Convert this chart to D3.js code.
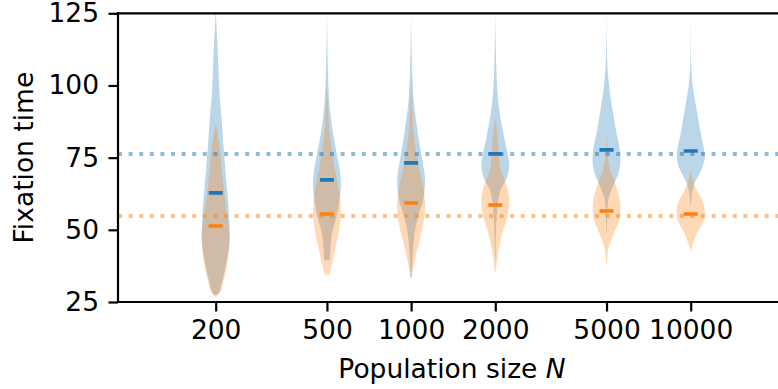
<!DOCTYPE html>
<html>
<head>
<meta charset="utf-8">
<script src="https://cdn.jsdelivr.net/npm/d3@7"></script>
<style>
  body { margin: 0; background: #fff; }
  svg text { font-family: "DejaVu Sans", sans-serif; }
</style>
</head>
<body>
<div id="chart"></div>
<script>
// Data
const populations = [200, 500, 1000, 2000, 5000, 10000];
const blueMeans = [62.8, 67.3, 73.2, 76.3, 77.7, 77.3];
const orangeMeans = [51.3, 55.5, 59.3, 58.6, 56.5, 55.5];
const blueRef = 76.3;
const orangeRef = 54.8;
const yTicks = [25, 50, 75, 100, 125];

// Violin outlines: [fixation time, relative half width], from top to bottom
const blueProfiles = [
  [[127, 0], [122, 0.04], [114.6, 0.12], [103, 0.22], [95, 0.3], [91.5, 0.37], [80, 0.54], [68.4, 0.73], [56.9, 0.93], [47.6, 1.0], [38.5, 0.76], [31.6, 0.43], [28.2, 0.24], [27.4, 0.05]],
  [[127, 0], [112, 0.04], [100.8, 0.1], [90, 0.25], [83.5, 0.43], [76.6, 0.69], [69.7, 0.95], [65, 1.0], [60.4, 0.9], [54, 0.65], [48.9, 0.36], [43, 0.24], [39.5, 0.2]],
  [[127, 0], [112, 0.04], [95, 0.18], [83.5, 0.48], [76.6, 0.71], [69.7, 0.95], [67.3, 1.0], [60.4, 0.86], [54.6, 0.5], [48.9, 0.25], [42, 0.12], [33.5, 0.03]],
  [[127, 0], [112, 0.04], [95, 0.2], [83.5, 0.57], [75.2, 0.92], [73.2, 1.0], [68.4, 0.86], [63.8, 0.38], [58, 0.17], [50, 0.06], [40, 0.02]],
  [[127, 0], [112, 0.03], [100.8, 0.16], [91.5, 0.43], [83.5, 0.71], [77.7, 0.95], [74.2, 1.0], [69.7, 0.86], [65, 0.45], [60.4, 0.13], [55, 0.04], [49, 0.02]],
  [[126, 0], [110, 0.02], [100.8, 0.12], [92.6, 0.39], [83.5, 0.71], [75.2, 1.0], [70.8, 0.77], [66.2, 0.28], [62, 0.08], [58, 0.02]]
];
const orangeProfiles = [
  [[87, 0], [85, 0.08], [80, 0.24], [68.4, 0.48], [56.9, 0.76], [47.6, 1.0], [38.5, 0.83], [31.6, 0.52], [28.2, 0.28], [26.8, 0.04]],
  [[99, 0], [95, 0.05], [83.5, 0.19], [71.9, 0.52], [65, 0.8], [60.4, 0.95], [56, 1.0], [48.9, 0.83], [42, 0.52], [37, 0.3], [34.4, 0.15]],
  [[103, 0], [95, 0.06], [83.5, 0.18], [71.9, 0.54], [65, 0.85], [58.1, 1.0], [51.2, 0.83], [44.3, 0.49], [37.4, 0.18], [33, 0.02]],
  [[89, 0], [83.5, 0.14], [72, 0.33], [65, 0.81], [60.4, 1.0], [54.6, 0.86], [48.9, 0.5], [42, 0.2], [35, 0.02]],
  [[84, 0], [78, 0.06], [72, 0.19], [65, 0.69], [58, 1.0], [53.4, 0.9], [48.9, 0.52], [44.3, 0.17], [38.4, 0.02]],
  [[71, 0], [68, 0.1], [65, 0.32], [57, 1.0], [53.4, 0.93], [48.9, 0.45], [45, 0.15], [43, 0.02]]
];

const width = 778;
const height = 389;
const plot = { left: 118, right: 786, top: 13.3, bottom: 302 };
const fontSize = 26.5;
const blue = "#1f77b4";
const orange = "#ff7f0e";
const halfWidth = 14;

const svg = d3.select("#chart")
    .append("svg")
    .attr("width", width)
    .attr("height", height);

// Scales
const x = d3.scaleLog()
    .domain([200, 10000])
    .range([215.7, 690.7]);

const y = d3.scaleLinear()
    .domain([25, 125])
    .range([plot.bottom, plot.top]);

svg.append("clipPath")
    .attr("id", "plot-clip")
    .append("rect")
    .attr("x", plot.left)
    .attr("y", plot.top)
    .attr("width", plot.right - plot.left)
    .attr("height", plot.bottom - plot.top);

const body = svg.append("g").attr("clip-path", "url(#plot-clip)");

// Violins
const violinArea = (cx) => d3.area()
    .y((d) => y(d[0]))
    .x0((d) => cx - d[1] * halfWidth)
    .x1((d) => cx + d[1] * halfWidth)
    .curve(d3.curveMonotoneY);

populations.forEach((p, i) => {
    const cx = x(p);
    body.append("path")
        .datum(blueProfiles[i])
        .attr("d", violinArea(cx))
        .attr("fill", blue)
        .attr("fill-opacity", 0.3);
    body.append("path")
        .datum(orangeProfiles[i])
        .attr("d", violinArea(cx))
        .attr("fill", orange)
        .attr("fill-opacity", 0.3);
});

// Reference lines
[[blueRef, blue], [orangeRef, orange]].forEach(([v, c]) => {
    body.append("line")
        .attr("x1", plot.left)
        .attr("x2", plot.right)
        .attr("y1", y(v))
        .attr("y2", y(v))
        .attr("stroke", c)
        .attr("stroke-opacity", 0.5)
        .attr("stroke-width", 4)
        .attr("stroke-dasharray", "4,6.6");
});

// Mean markers
const markers = [[blueMeans, blue], [orangeMeans, orange]];
markers.forEach(([means, c]) => {
    body.selectAll(null)
        .data(means)
        .enter()
        .append("line")
        .attr("x1", (d, i) => x(populations[i]) - 7)
        .attr("x2", (d, i) => x(populations[i]) + 7)
        .attr("y1", (d) => y(d))
        .attr("y2", (d) => y(d))
        .attr("stroke", c)
        .attr("stroke-width", 3.6);
});

// Axes
const xAxis = d3.axisBottom(x)
    .tickValues(populations)
    .tickFormat(d3.format("d"))
    .tickSize(9.5)
    .tickPadding(9);

const yAxis = d3.axisLeft(y)
    .tickValues(yTicks)
    .tickSize(9.5)
    .tickSizeOuter(0)
    .tickPadding(9.5);

const gx = svg.append("g")
    .attr("transform", `translate(0, ${plot.bottom})`)
    .call(xAxis);
gx.select(".domain").remove();

const gy = svg.append("g")
    .attr("transform", `translate(${plot.left}, 0)`)
    .call(yAxis);
gy.select(".domain").remove();

[gx, gy].forEach((g) => {
    g.selectAll("line").attr("stroke", "#000").attr("stroke-width", 2.2);
    g.selectAll("text").attr("fill", "#000").style("font-size", `${fontSize}px`);
});

// Spines
const spine = svg.append("g")
    .attr("stroke", "#000")
    .attr("stroke-width", 2.2)
    .attr("stroke-linecap", "square");
spine.append("line").attr("x1", plot.left).attr("x2", plot.right).attr("y1", plot.top).attr("y2", plot.top);
spine.append("line").attr("x1", plot.left).attr("x2", plot.right).attr("y1", plot.bottom).attr("y2", plot.bottom);
spine.append("line").attr("x1", plot.left).attr("x2", plot.left).attr("y1", plot.top).attr("y2", plot.bottom);

// Axis labels
const xLabel = svg.append("text")
    .attr("x", (plot.left + plot.right) / 2)
    .attr("y", 378)
    .attr("text-anchor", "middle")
    .style("font-size", `${fontSize}px`);
xLabel.append("tspan").text("Population size ");
xLabel.append("tspan").style("font-style", "italic").text("N");

svg.append("text")
    .attr("transform", "rotate(-90)")
    .attr("x", -(plot.top + plot.bottom) / 2)
    .attr("y", 33)
    .attr("text-anchor", "middle")
    .style("font-size", `${fontSize}px`)
    .text("Fixation time");
</script>
</body>
</html>
